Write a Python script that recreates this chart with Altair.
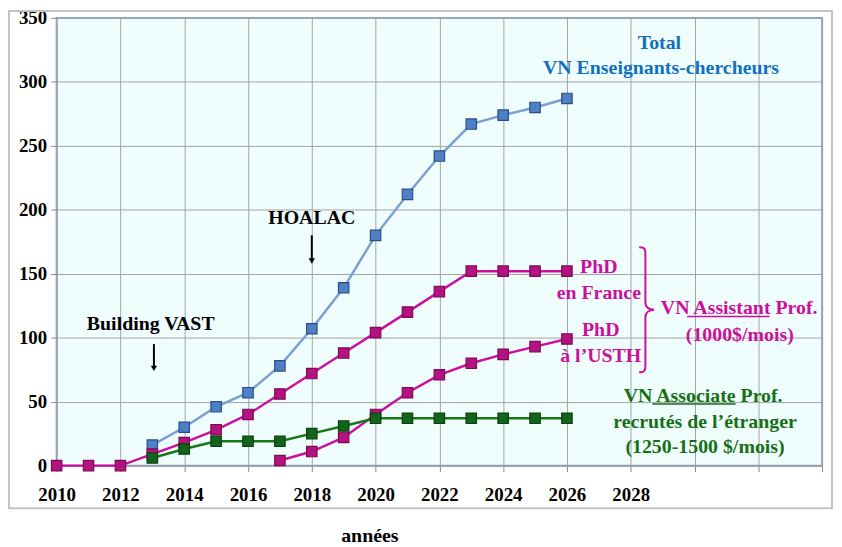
import altair as alt
import pandas as pd

# ---- data ----
total_years = list(range(2013, 2027))
total_vals = [16, 30, 46, 57, 78, 107, 139, 180, 212, 242, 267, 274, 280, 287]
france_years = list(range(2010, 2027))
france_vals = [0, 0, 0, 9, 18, 28, 40, 56, 72, 88, 104, 120, 136, 152, 152, 152, 152]
usth_years = list(range(2017, 2027))
usth_vals = [4, 11, 22, 40, 57, 71, 80, 87, 93, 99]
assoc_years = list(range(2013, 2027))
assoc_vals = [6, 13, 19, 19, 19, 25, 31, 37, 37, 37, 37, 37, 37, 37]

series_names = ["Total", "PhD France", "PhD USTH", "Associate"]
x_ticks = list(range(2010, 2035, 2))
y_ticks = list(range(0, 351, 50))

# annotation texts (in data coordinates)
ann_text = ["Total", "VN Enseignants-chercheurs", "HOALAC", "Building VAST",
            "PhD", "en France", "PhD", "à l\u2019USTH",
            "VN Assistant  Prof.", "(1000$/mois)",
            "VN Associate Prof.", "recrutés de l\u2019étranger", "(1250-1500 $/mois)"]
ann_x = [2028.9, 2028.95, 2018.0, 2012.95,
         2027.0, 2027.0, 2027.06, 2027.06,
         2031.4, 2031.42,
         2030.27, 2030.33, 2030.33]
ann_y = [330.5, 310.5, 193.5, 110.5,
         155.2, 135.0, 106.3, 85.4,
         123.4, 102.4,
         54.3, 34.1, 14.7]
ann_color = ["#1270c0", "#1270c0", "#000000", "#000000",
             "#cc0f9c", "#cc0f9c", "#cc0f9c", "#cc0f9c",
             "#cc0f9c", "#cc0f9c",
             "#157015", "#157015", "#157015"]

rows = []
for name, xs, ys in zip(series_names,
                        [total_years, france_years, usth_years, assoc_years],
                        [total_vals, france_vals, usth_vals, assoc_vals]):
    for x, y in zip(xs, ys):
        rows.append({"series": name, "year": x, "value": y})
df = pd.DataFrame(rows)

ann = pd.DataFrame({"x": ann_x, "y": ann_y, "text": ann_text, "color": ann_color})

FONT = "Liberation Serif, Times New Roman, serif"

line_colors = ["#7b9fd3", "#cc0f9c", "#cc0f9c", "#167816"]
marker_fill = ["#4f80c6", "#b3127f", "#b3127f", "#12641c"]
marker_stroke = ["#2a4f88", "#7a0a58", "#7a0a58", "#0a400a"]

xscale = alt.Scale(domain=[2010, 2034], nice=False, zero=False)
yscale = alt.Scale(domain=[0, 350], nice=False)

X = alt.X("year:Q", scale=xscale,
          axis=alt.Axis(values=x_ticks, format="d",
                        labelExpr="datum.value <= 2028 ? datum.label : ''",
                        labelFlush=False, labelOverlap=False,
                        title="années", titleX=315, titleY=70,
                        titleFont=FONT, titleFontSize=20,
                        titleFontWeight="bold", titleColor="#000",
                        titleAlign="center", titleBaseline="middle",
                        labelFont=FONT, labelFontSize=19,
                        labelFontWeight="bold", labelColor="#000",
                        labelPadding=14, tickSize=6, tickColor="#888",
                        domainColor="#999", gridColor="#a3a3a3"))
Y = alt.Y("value:Q", scale=yscale,
          axis=alt.Axis(values=y_ticks, title=None,
                        labelFont=FONT, labelFontSize=19,
                        labelFontWeight="bold", labelColor="#000",
                        labelPadding=4, tickSize=6, tickColor="#888",
                        domain=False, gridColor="#a3a3a3"))

lines = alt.Chart(df).mark_line(strokeWidth=2.5).encode(
    x=X, y=Y,
    color=alt.Color("series:N", scale=alt.Scale(domain=series_names, range=line_colors), legend=None),
    detail="series:N",
)
points = alt.Chart(df).mark_point(shape="square", filled=True, size=110, strokeWidth=1.2, opacity=1).encode(
    x="year:Q", y="value:Q",
    fill=alt.Fill("series:N", scale=alt.Scale(domain=series_names, range=marker_fill), legend=None),
    stroke=alt.Stroke("series:N", scale=alt.Scale(domain=series_names, range=marker_stroke), legend=None),
)

texts = alt.Chart(ann).mark_text(font=FONT, fontWeight="bold", fontSize=20,
                                 align="center", baseline="middle").encode(
    x="x:Q", y="y:Q", text="text:N",
    color=alt.Color("color:N", scale=None),
)

# arrows
arrow_x = [2018.0, 2013.05]
arrow_top = [180, 95]
arrow_bot = [160, 76]
arr = pd.DataFrame({"x": arrow_x, "y1": arrow_top, "y2": arrow_bot})
arrow_shafts = alt.Chart(arr).mark_rule(color="#000", strokeWidth=2).encode(
    x="x:Q", y="y1:Q", y2="y2:Q")
arrow_heads = alt.Chart(arr).mark_point(shape="triangle-down", filled=True, size=40,
                                        color="#000", opacity=1).encode(x="x:Q", y="y2:Q")

# underlines
ul = pd.DataFrame({"x1": [2029.77, 2028.68], "x2": [2032.35, 2031.29],
                   "y": [116.6, 48.1], "c": ["#cc0f9c", "#157015"]})
underlines = alt.Chart(ul).mark_rule(strokeWidth=1.5).encode(
    x="x1:Q", x2="x2:Q", y="y:Q", color=alt.Color("c:N", scale=None))

# brace
brace_path = ("M -0.1,-1 C 0.0,-1 0.0,-0.96 0.0,-0.88 L 0.0,-0.12 "
              "C 0.0,-0.04 0.06,0 0.14,0 C 0.06,0 0.0,0.04 0.0,0.12 "
              "L 0.0,0.88 C 0.0,0.96 0.0,1 -0.1,1")
br = pd.DataFrame({"x": [2028.46], "y": [121.8]})
brace = alt.Chart(br).mark_point(shape=brace_path, size=126 * 126, filled=False,
                                 stroke="#cc0f9c", strokeWidth=2, opacity=1).encode(
    x="x:Q", y="y:Q")

# outer frame
frame = alt.Chart(br).mark_rect(fill=None, stroke="#c4c4c4", strokeWidth=2).encode(
    x=alt.value(-48), x2=alt.value(781), y=alt.value(-7), y2=alt.value(494))

chart = alt.layer(frame, lines, points, arrow_shafts, arrow_heads, underlines, brace, texts).properties(
    width=771, height=451,
    autosize=alt.AutoSizeParams(type="none"),
    padding={"left": 49, "top": 8, "right": 12, "bottom": 78},
).configure_view(fill="#f0fdfd", stroke="#8aa4cc", strokeWidth=2)

chart.save("out.html", embed_options={"renderer": "svg", "actions": False})
